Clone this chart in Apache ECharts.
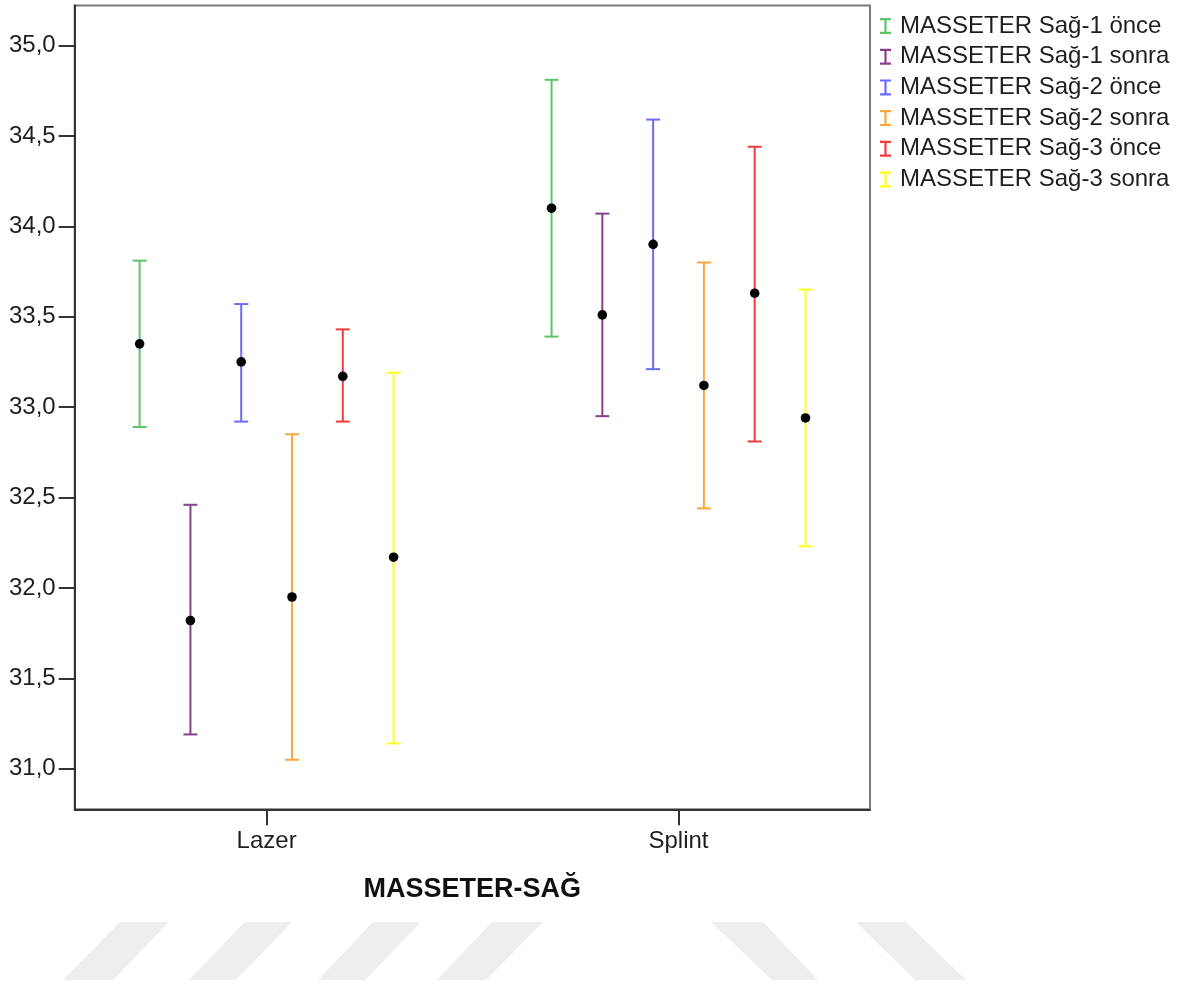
<!DOCTYPE html>
<html>
<head>
<meta charset="utf-8">
<script src="https://cdn.jsdelivr.net/npm/echarts@6/dist/echarts.min.js"></script>
<style>
html,body{margin:0;padding:0;background:#fff;}
#chart{width:1187px;height:985px;}
</style>
</head>
<body>
<div id="chart"></div>
<script>
// ---- data ----
const categories = ['Lazer', 'Splint'];
const seriesNames = [
  'MASSETER Sağ-1 önce', 'MASSETER Sağ-1 sonra',
  'MASSETER Sağ-2 önce', 'MASSETER Sağ-2 sonra',
  'MASSETER Sağ-3 önce', 'MASSETER Sağ-3 sonra'
];
const seriesColors = ['#5cc46a', '#8a3f8a', '#6b6bff', '#ffa53f', '#f03c3c', '#ffff1f'];
const meanLazer  = [33.35, 31.82, 33.25, 31.95, 33.17, 32.17];
const lowLazer   = [32.89, 31.19, 32.92, 31.05, 32.92, 31.14];
const highLazer  = [33.81, 32.46, 33.57, 32.85, 33.43, 33.19];
const meanSplint = [34.10, 33.51, 33.90, 33.12, 33.63, 32.94];
const lowSplint  = [33.39, 32.95, 33.21, 32.44, 32.81, 32.23];
const highSplint = [34.81, 34.07, 34.59, 33.80, 34.44, 33.65];
const yTicks = [31.0, 31.5, 32.0, 32.5, 33.0, 33.5, 34.0, 34.5, 35.0];
const xTitle = 'MASSETER-SAĞ';

// ---- build ----
const FONT = "'Liberation Sans', Arial, sans-serif";
const means = [meanLazer, meanSplint];
const lows = [lowLazer, lowSplint];
const highs = [highLazer, highSplint];
const dodge = 0.1233;

function renderItem(params, api) {
  const x = api.value(0), lo = api.value(1), hi = api.value(2), m = api.value(3);
  const pLo = api.coord([x, lo]), pHi = api.coord([x, hi]), pM = api.coord([x, m]);
  const color = api.visual('color');
  const hw = 7;
  const st = {stroke: color, lineWidth: 2};
  return {
    type: 'group',
    children: [
      {type: 'line', shape: {x1: pLo[0], y1: pLo[1], x2: pHi[0], y2: pHi[1]}, style: st},
      {type: 'line', shape: {x1: pHi[0] - hw, y1: pHi[1], x2: pHi[0] + hw, y2: pHi[1]}, style: st},
      {type: 'line', shape: {x1: pLo[0] - hw, y1: pLo[1], x2: pLo[0] + hw, y2: pLo[1]}, style: st},
      {type: 'circle', shape: {cx: pM[0], cy: pM[1], r: 4.8}, style: {fill: '#000'}}
    ]
  };
}

const series = seriesNames.map((name, s) => ({
  type: 'custom',
  name: name,
  renderItem: renderItem,
  itemStyle: {color: seriesColors[s]},
  encode: {x: 0, y: [1, 2, 3]},
  data: categories.map((c, ci) => [ci + (s - 2.5) * dodge, lows[ci][s], highs[ci][s], means[ci][s]])
}));

const ibeam = 'path://M0,0H11V2.2H6.6V13.8H11V16H0V13.8H4.4V2.2H0Z';

// watermark stripes (decoration)
const stripes = [
  [[120,922],[169,922],[113,980],[63,980]],
  [[245,922],[292,922],[236,980],[189,980]],
  [[373,922],[421,922],[365,980],[318,980]],
  [[492,922],[543,922],[486,980],[437,980]],
  [[711,922],[763,922],[818,980],[772,980]],
  [[856,922],[906,922],[966,980],[915,980]]
];

const option = {
  backgroundColor: '#ffffff',
  animation: false,
  textStyle: {fontFamily: FONT},
  grid: {
    left: 74.7, right: 317, top: 5.5, bottom: 175.7,
    show: true, borderColor: '#7a7a7a', borderWidth: 2, backgroundColor: 'transparent'
  },
  legend: {
    orient: 'vertical',
    left: 875, top: 9,
    itemWidth: 11, itemHeight: 16, itemGap: 6.7,
    data: seriesNames.map(n => ({name: n, icon: ibeam})),
    textStyle: {fontFamily: FONT, fontSize: 24, color: '#1e1e1e', lineHeight: 24, padding: [0, 0, 0, 4]},
    selectedMode: false
  },
  xAxis: {
    type: 'value',
    min: -0.4659, max: 1.4649,
    axisLine: {show: true, onZero: false, lineStyle: {color: '#333', width: 2}},
    axisTick: {show: true, length: 16, lineStyle: {color: '#333', width: 2}, customValues: [0, 1]},
    axisLabel: {
      customValues: [0, 1], margin: 20,
      fontFamily: FONT, fontSize: 24, color: '#1e1e1e',
      formatter: v => categories[Math.round(v)]
    },
    splitLine: {show: false},
    name: xTitle, nameLocation: 'middle', nameGap: 67,
    nameTextStyle: {fontFamily: FONT, fontSize: 27, fontWeight: 'bold', color: '#111'}
  },
  yAxis: {
    type: 'value',
    min: 30.776, max: 35.221,
    axisLine: {show: true, onZero: false, lineStyle: {color: '#333', width: 2}},
    axisTick: {show: true, length: 16, lineStyle: {color: '#333', width: 2}, customValues: yTicks},
    axisLabel: {
      customValues: yTicks, margin: 19,
      fontFamily: FONT, fontSize: 24, color: '#1e1e1e',
      formatter: v => v.toFixed(1).replace('.', ',')
    },
    splitLine: {show: false}
  },
  graphic: stripes.map(p => ({
    type: 'polygon', shape: {points: p}, style: {fill: '#eeeeee'}, z: -10, silent: true
  })),
  series: series
};

const chart = echarts.init(document.getElementById('chart'), null, {renderer: 'canvas'});
chart.setOption(option);
</script>
</body>
</html>
